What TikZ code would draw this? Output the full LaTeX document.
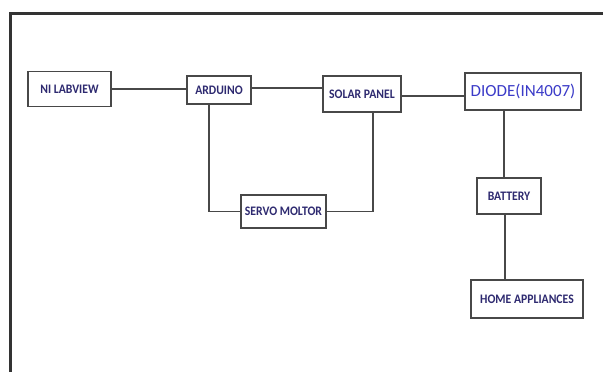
\documentclass[tikz,border=0pt]{standalone}
\usepackage{fontspec}
\setmainfont{Carlito}
\newfontfamily\condfont{Carlito}[FakeStretch=0.9]
\definecolor{txtnavy}{HTML}{2E2A70}
\definecolor{txtblue}{HTML}{3B3BC8}
\definecolor{linegray}{HTML}{484848}
\begin{document}
\begin{tikzpicture}[x=1pt,y=-1pt,
  blockbox/.style={draw=linegray, line width=1.5pt, fill=white, inner sep=0pt,
    font=\condfont\fontsize{13}{15}\selectfont\bfseries, text=txtnavy},
  wire/.style={draw=linegray, line width=1.8pt},
  framepart/.style={draw=black!80, line width=3pt}]
\useasboundingbox (0,0) rectangle (603,372);
\fill[white] (0,0) rectangle (603,372);
% open frame
\coordinate (ftl) at (10,13);
\coordinate (ftr) at (603,13);
\coordinate (fbl) at (10,372);
\draw[framepart] (ftr) -- (ftl) -- (fbl);
% blocks
\node[blockbox, minimum width=83, minimum height=35] (ni) at (69.5,89) {NI LABVIEW};
\node[blockbox, minimum width=64, minimum height=28] (ard) at (219,90) {ARDUINO};
\node[blockbox, minimum width=78, minimum height=36] (sol) at (362,94) {\raisebox{-1pt}{SOLAR PANEL}};
\node[blockbox, minimum width=116, minimum height=37, font=\rmfamily\fontsize{17}{19}\selectfont, text=txtblue] (dio) at (523,91.5) {DIODE(IN4007)};
\node[blockbox, minimum width=85, minimum height=33] (servo) at (283.5,211.5) {SERVO MOLTOR};
\node[blockbox, minimum width=64, minimum height=36] (bat) at (509,196) {BATTERY};
\node[blockbox, minimum width=112, minimum height=38] (home) at (527,299) {HOME APPLIANCES};
% connectors
\draw[wire] (ni.east) -- (ni.east -| ard.west);
\draw[wire] ([yshift=2]ard.east) -- ([yshift=2]ard.east -| sol.west);
\draw[wire] ([yshift=-2]sol.east) -- ([yshift=-2]sol.east -| dio.west);
\draw[wire] ([xshift=-10]ard.south) |- (servo.west);
\draw[wire] ([xshift=11]sol.south) |- (servo.east);
\draw[wire] ([xshift=-5]bat.north) -- ([xshift=-5]bat.north |- dio.south);
\draw[wire] ([xshift=-4]bat.south) -- ([xshift=-4]bat.south |- home.north);
\end{tikzpicture}
\end{document}
